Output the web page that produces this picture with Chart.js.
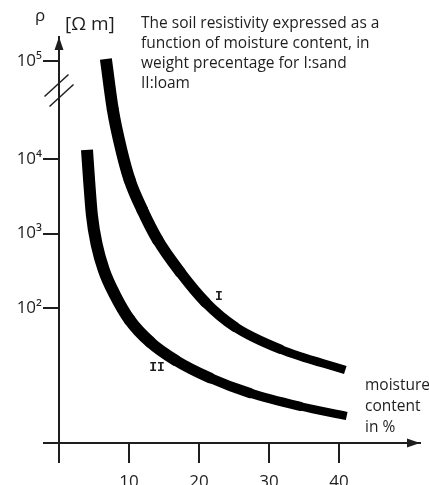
<!DOCTYPE html>
<html lang="en">
<head>
    <meta charset="UTF-8">
    <meta name="viewport" content="width=device-width, initial-scale=1.0">
    <title>Soil resistivity and moisture</title>
    <script src="https://cdn.jsdelivr.net/npm/chart.js"></script>
    <style>
        html, body {
            margin: 0;
            padding: 0;
            background-color: #fff;
            overflow: hidden;
        }
        .chart-box {
            position: relative;
            width: 429px;
            height: 485px;
        }
    </style>
</head>
<body>
    <div class="chart-box">
        <canvas id="soilChart"></canvas>
    </div>

    <script>
// moisture content (weight %) and resistivity (Ohm m) along each curve
const sandMoisture = [6.7, 7.7, 8.9, 10.1, 11.9, 14.1, 17.3, 20.9, 25.1, 31.6, 40.9];
const sandRho = [105000, 31600, 12400, 5200, 2070, 820, 304, 120, 56, 28, 14.7];
const loamMoisture = [4.0, 4.3, 4.7, 5.4, 6.4, 8.0, 10.1, 13.0, 16.6, 21.6, 27.3, 34.4, 41.1];
const loamRho = [12400, 5200, 1770, 700, 324, 149, 69, 35, 20, 11.5, 7.2, 4.8, 3.55];

const xTicks = [0, 10, 20, 30, 40];
const yDecades = [2, 3, 4, 5];
const yLabels = ['10²', '10³', '10⁴', '10⁵'];

const titleLines = [
    'The soil resistivity expressed as a',
    'function of moisture content, in',
    'weight precentage for I:sand',
    'II:loam'
];
const xTitleLines = ['moisture', 'content', 'in %'];

// the axis is broken between 10^4 and 10^5, that decade gets stretched
const BREAK_STRETCH = 1.315;
function decadePos(rho) {
    const d = Math.log10(rho);
    return d <= 4 ? d : 4 + (d - 4) * BREAK_STRETCH;
}

const Y_MIN = 0.188;
const Y_MAX = 5.638;
const X_MAX = 51.57;

const INK = '#1e1e1e';
const FONT = "'Open Sans', 'DejaVu Sans', sans-serif";

// curves get thinner towards the wet end; inner pieces get round caps
// so the joints between pieces of different width don't show
function curve(xs, rhos) {
    const last = xs.length - 2;
    return {
        data: xs.map((x, i) => ({ x: x, y: decadePos(rhos[i]) })),
        borderColor: '#000',
        borderWidth: 12,
        borderCapStyle: 'butt',
        pointRadius: 0,
        cubicInterpolationMode: 'monotone',
        segment: {
            borderWidth: ctx => {
                const x = (ctx.p0.parsed.x + ctx.p1.parsed.x) / 2;
                const t = Math.min(Math.max((x - 10) / 30, 0), 1);
                return 12 - 4 * t;
            },
            borderCapStyle: ctx => (ctx.p0DataIndex === 0 || ctx.p0DataIndex === last ? 'butt' : 'round')
        }
    };
}

const decorations = {
    id: 'decorations',
    afterDraw(chart) {
        const ctx = chart.ctx;
        const a = chart.chartArea;
        const ys = chart.scales.y;
        ctx.save();
        ctx.fillStyle = INK;
        ctx.strokeStyle = INK;

        // arrow heads
        ctx.beginPath();
        ctx.moveTo(a.left, a.top);
        ctx.lineTo(a.left - 4.5, a.top + 13);
        ctx.lineTo(a.left + 4.5, a.top + 13);
        ctx.closePath();
        ctx.fill();
        ctx.beginPath();
        ctx.moveTo(a.right, a.bottom);
        ctx.lineTo(a.right - 13, a.bottom - 4.5);
        ctx.lineTo(a.right - 13, a.bottom + 4.5);
        ctx.closePath();
        ctx.fill();

        // break marks on the rho axis
        const yb = ys.getPixelForValue(4.92);
        ctx.lineWidth = 1.5;
        [-5, 5].forEach(off => {
            ctx.beginPath();
            ctx.moveTo(a.left - 12 + off * 0.5, yb + off + 11);
            ctx.lineTo(a.left + 12 + off * 0.5, yb + off - 11);
            ctx.stroke();
        });

        // axis names
        ctx.textBaseline = 'alphabetic';
        ctx.textAlign = 'center';
        ctx.font = '17px ' + FONT;
        ctx.fillText('ρ', 40, 21);
        ctx.textAlign = 'left';
        ctx.font = '19px ' + FONT;
        ctx.fillText('[Ω m]', 65, 30);

        ctx.font = '15.5px ' + FONT;
        titleLines.forEach((line, i) => ctx.fillText(line, 141, 28 + i * 20));
        xTitleLines.forEach((line, i) => ctx.fillText(line, 365, 390 + i * 21));

        // curve names
        ctx.textAlign = 'center';
        ctx.font = 'bold 13px "Liberation Mono", monospace';
        ctx.fillText('I', 219, 300);
        ctx.fillText('II', 157, 371);
        ctx.restore();
    }
};

new Chart(document.getElementById('soilChart').getContext('2d'), {
    type: 'line',
    data: {
        datasets: [
            curve(sandMoisture, sandRho),
            curve(loamMoisture, loamRho)
        ]
    },
    options: {
        responsive: true,
        maintainAspectRatio: false,
        animation: false,
        layout: { padding: { left: 14, right: 9, top: 37, bottom: 0 } },
        plugins: {
            legend: { display: false },
            tooltip: { enabled: false }
        },
        scales: {
            x: {
                type: 'linear',
                min: 0,
                max: X_MAX,
                afterBuildTicks: s => { s.ticks = xTicks.map(v => ({ value: v })); },
                afterFit: s => { s.height = 42; },
                ticks: {
                    callback: v => (v === 0 ? '' : String(v)),
                    font: { family: FONT, size: 17 },
                    color: INK,
                    padding: 9,
                    maxRotation: 0,
                    autoSkip: false
                },
                grid: { drawOnChartArea: false, tickLength: 20, color: INK, lineWidth: 2 },
                border: { display: true, color: INK, width: 2 }
            },
            y: {
                type: 'linear',
                min: Y_MIN,
                max: Y_MAX,
                afterBuildTicks: s => {
                    s.ticks = [{ value: Y_MIN }].concat(yDecades.map(d => ({ value: decadePos(Math.pow(10, d)) })));
                },
                afterFit: s => { s.width = 45; },
                ticks: {
                    callback: (v, i) => (i === 0 ? '' : yLabels[i - 1]),
                    font: { family: FONT, size: 17 },
                    color: INK,
                    padding: 1,
                    autoSkip: false
                },
                grid: { drawOnChartArea: false, tickLength: 16, color: INK, lineWidth: 2 },
                border: { display: true, color: INK, width: 2 }
            }
        }
    },
    plugins: [decorations]
});
    </script>
</body>
</html>
